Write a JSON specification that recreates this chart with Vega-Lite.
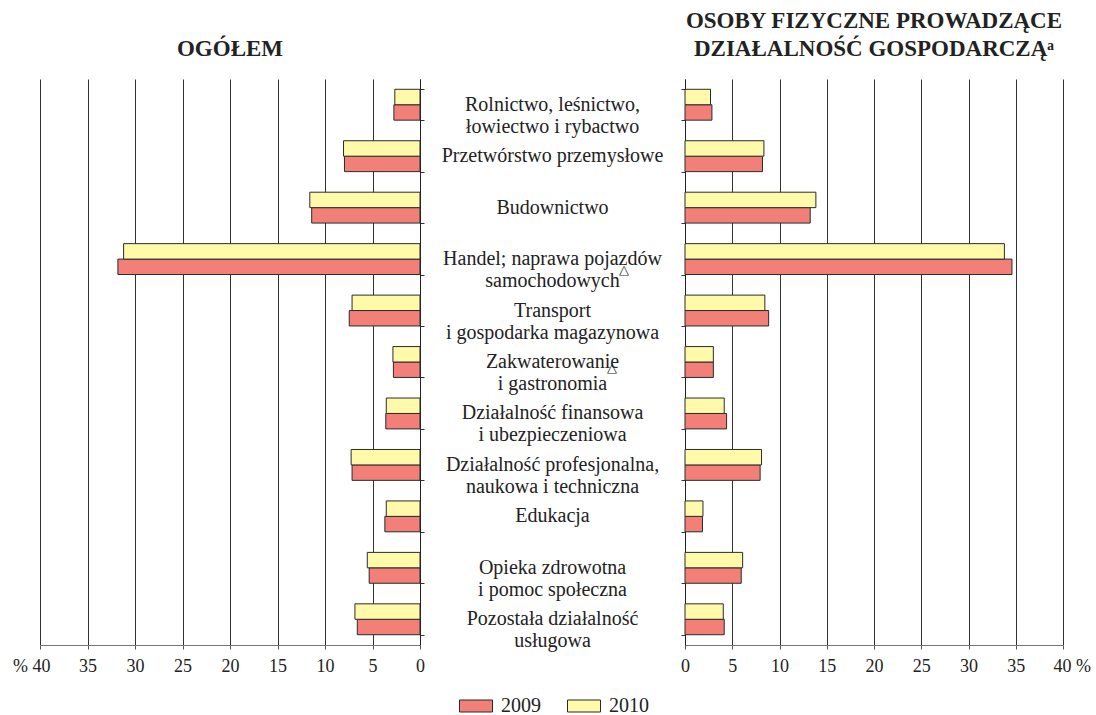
{
  "$schema": "https://vega.github.io/schema/vega-lite/v6.json",
  "padding": {"left": 12, "top": 10, "right": 10, "bottom": 0},
  "background": "white",
  "config": {
    "font": "Liberation Serif",
    "view": {"stroke": null},
    "concat": {"spacing": 0},
    "title": {"font": "Liberation Serif", "fontSize": 23, "fontWeight": "bold", "color": "#222", "lineHeight": 28, "anchor": "middle", "offset": 18},
    "axis": {"labelFont": "Liberation Serif", "labelFontSize": 18, "labelColor": "#222", "titleFont": "Liberation Serif"}
  },
  "datasets": {
    "bars": [
      {"k": 1, "year": "2009", "side": "og", "value": 2.75},
      {"k": 1, "year": "2010", "side": "og", "value": 2.65},
      {"k": 2, "year": "2009", "side": "og", "value": 7.95},
      {"k": 2, "year": "2010", "side": "og", "value": 8.05},
      {"k": 3, "year": "2009", "side": "og", "value": 11.4},
      {"k": 3, "year": "2010", "side": "og", "value": 11.6},
      {"k": 4, "year": "2009", "side": "og", "value": 31.8},
      {"k": 4, "year": "2010", "side": "og", "value": 31.2},
      {"k": 5, "year": "2009", "side": "og", "value": 7.45},
      {"k": 5, "year": "2010", "side": "og", "value": 7.15},
      {"k": 6, "year": "2009", "side": "og", "value": 2.8},
      {"k": 6, "year": "2010", "side": "og", "value": 2.85},
      {"k": 7, "year": "2009", "side": "og", "value": 3.6},
      {"k": 7, "year": "2010", "side": "og", "value": 3.55},
      {"k": 8, "year": "2009", "side": "og", "value": 7.15},
      {"k": 8, "year": "2010", "side": "og", "value": 7.25},
      {"k": 9, "year": "2009", "side": "og", "value": 3.7},
      {"k": 9, "year": "2010", "side": "og", "value": 3.55},
      {"k": 10, "year": "2009", "side": "og", "value": 5.35},
      {"k": 10, "year": "2010", "side": "og", "value": 5.55},
      {"k": 11, "year": "2009", "side": "og", "value": 6.6},
      {"k": 11, "year": "2010", "side": "og", "value": 6.85},
      {"k": 1, "year": "2009", "side": "os", "value": 2.85},
      {"k": 1, "year": "2010", "side": "os", "value": 2.7},
      {"k": 2, "year": "2009", "side": "os", "value": 8.2},
      {"k": 2, "year": "2010", "side": "os", "value": 8.35},
      {"k": 3, "year": "2009", "side": "os", "value": 13.25},
      {"k": 3, "year": "2010", "side": "os", "value": 13.85},
      {"k": 4, "year": "2009", "side": "os", "value": 34.6},
      {"k": 4, "year": "2010", "side": "os", "value": 33.8},
      {"k": 5, "year": "2009", "side": "os", "value": 8.85},
      {"k": 5, "year": "2010", "side": "os", "value": 8.45},
      {"k": 6, "year": "2009", "side": "os", "value": 3.0},
      {"k": 6, "year": "2010", "side": "os", "value": 3.0},
      {"k": 7, "year": "2009", "side": "os", "value": 4.4},
      {"k": 7, "year": "2010", "side": "os", "value": 4.15},
      {"k": 8, "year": "2009", "side": "os", "value": 7.95},
      {"k": 8, "year": "2010", "side": "os", "value": 8.1},
      {"k": 9, "year": "2009", "side": "os", "value": 1.85},
      {"k": 9, "year": "2010", "side": "os", "value": 1.9},
      {"k": 10, "year": "2009", "side": "os", "value": 5.95},
      {"k": 10, "year": "2010", "side": "os", "value": 6.1},
      {"k": 11, "year": "2009", "side": "os", "value": 4.15},
      {"k": 11, "year": "2010", "side": "os", "value": 4.05}
    ],
    "cats": [
      {"k": 1, "label": "Rolnictwo, leśnictwo,|łowiectwo i rybactwo"},
      {"k": 2, "label": "Przetwórstwo przemysłowe"},
      {"k": 3, "label": "Budownictwo"},
      {"k": 4, "label": "Handel; naprawa pojazdów|samochodowych"},
      {"k": 5, "label": "Transport|i gospodarka magazynowa"},
      {"k": 6, "label": "Zakwaterowanie|i gastronomia"},
      {"k": 7, "label": "Działalność finansowa|i ubezpieczeniowa"},
      {"k": 8, "label": "Działalność profesjonalna,|naukowa i techniczna"},
      {"k": 9, "label": "Edukacja"},
      {"k": 10, "label": "Opieka zdrowotna|i pomoc społeczna"},
      {"k": 11, "label": "Pozostała działalność|usługowa"}
    ]
  },
  "resolve": {"scale": {"x": "independent", "y": "shared", "color": "shared"}},
  "hconcat": [
    {
      "width": 380,
      "height": 566,
      "title": {"text": ["", "OGÓŁEM"]},
      "data": {"name": "bars"},
      "transform": [{"filter": "datum.side == 'og'"}],
      "mark": {"type": "bar", "stroke": "#2b2b2b", "strokeWidth": 1},
      "encoding": {
        "y": {"field": "k", "type": "ordinal", "scale": {"domain": [1,2,3,4,5,6,7,8,9,10,11], "paddingInner": 0.4, "paddingOuter": 0.2},
              "axis": {"orient": "right", "labels": false, "ticks": true, "tickBand": "extent", "tickSize": 4, "tickColor": "#333", "domainColor": "#222", "title": null}},
        "yOffset": {"field": "year", "type": "nominal", "scale": {"domain": ["2010", "2009"]}},
        "x": {"field": "value", "type": "quantitative", "scale": {"domain": [0, 40], "reverse": true, "nice": false},
              "axis": {"values": [0,5,10,15,20,25,30,35,40], "grid": true, "gridColor": "#333", "gridWidth": 1, "domainColor": "#777", "tickColor": "#555", "tickSize": 4, "labelPadding": 8, "labelFlush": false, "title": null,
                       "labelExpr": "datum.value == 40 ? '% 40' : datum.label",
                       "labelAlign": {"condition": {"test": "datum.value == 40", "value": "right"}, "value": "center"},
                       "labelOffset": {"condition": {"test": "datum.value == 40", "value": 10}, "value": 0}}},
        "color": {"field": "year", "type": "nominal", "scale": {"domain": ["2009", "2010"], "range": ["#F28078", "#FFFAAA"]},
                  "legend": {"orient": "none", "legendX": 419, "legendY": 610, "direction": "horizontal", "title": null,
                             "symbolType": "M-1,-0.364H1V0.364H-1Z", "symbolSize": 1089, "symbolStrokeColor": "#333", "symbolStrokeWidth": 1,
                             "labelFont": "Liberation Serif", "labelFontSize": 20, "labelColor": "#222", "labelOffset": 8, "columnPadding": 24}}
      }
    },
    {
      "width": 255,
      "height": 566,
      "data": {"name": "cats"},
      "layer": [
        {
          "mark": {"type": "text", "lineBreak": "|", "fontSize": 20, "lineHeight": 22, "color": "#222", "align": "center", "baseline": "middle", "font": "Liberation Serif"},
          "encoding": {
            "y": {"field": "k", "type": "ordinal", "axis": null},
            "text": {"field": "label"}
          }
        },
        {
          "transform": [{"filter": "datum.k == 4"}],
          "mark": {"type": "text", "text": "△", "fontSize": 13, "color": "#222", "align": "center", "baseline": "middle", "dx": 71, "dy": 11},
          "encoding": {"y": {"field": "k", "type": "ordinal", "axis": null}}
        },
        {
          "transform": [{"filter": "datum.k == 6"}],
          "mark": {"type": "text", "text": "△", "fontSize": 13, "color": "#222", "align": "center", "baseline": "middle", "dx": 59, "dy": 6},
          "encoding": {"y": {"field": "k", "type": "ordinal", "axis": null}}
        }
      ]
    },
    {
      "width": 378,
      "height": 566,
      "title": {"text": ["OSOBY FIZYCZNE PROWADZĄCE", "DZIAŁALNOŚĆ GOSPODARCZĄᵃ"]},
      "data": {"name": "bars"},
      "transform": [{"filter": "datum.side == 'os'"}],
      "mark": {"type": "bar", "stroke": "#2b2b2b", "strokeWidth": 1},
      "encoding": {
        "y": {"field": "k", "type": "ordinal",
              "axis": {"orient": "left", "labels": false, "ticks": true, "tickBand": "extent", "tickSize": 4, "tickColor": "#333", "domainColor": "#222", "title": null}},
        "yOffset": {"field": "year", "type": "nominal", "scale": {"domain": ["2010", "2009"]}},
        "x": {"field": "value", "type": "quantitative", "scale": {"domain": [0, 40], "nice": false},
              "axis": {"values": [0,5,10,15,20,25,30,35,40], "grid": true, "gridColor": "#333", "gridWidth": 1, "domainColor": "#777", "tickColor": "#555", "tickSize": 4, "labelPadding": 8, "labelFlush": false, "title": null,
                       "labelExpr": "datum.value == 40 ? '40 %' : datum.label",
                       "labelAlign": {"condition": {"test": "datum.value == 40", "value": "left"}, "value": "center"},
                       "labelOffset": {"condition": {"test": "datum.value == 40", "value": -10}, "value": 0}}},
        "color": {"field": "year", "type": "nominal"}
      }
    }
  ]
}
